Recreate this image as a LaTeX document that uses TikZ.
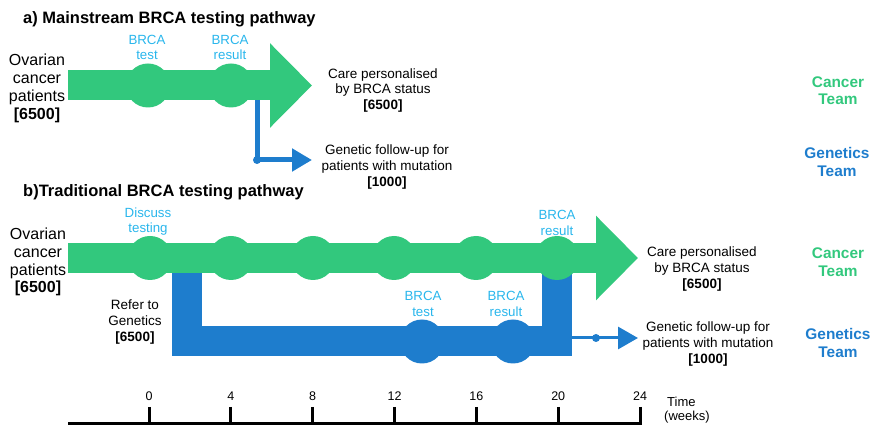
\documentclass[tikz,border=0pt]{standalone}
\usepackage{fontspec}
\setmainfont{Liberation Sans}
\usetikzlibrary{arrows.meta}
\definecolor{grn}{HTML}{32C87D}
\definecolor{blu}{HTML}{1E7DCD}
\definecolor{cyn}{HTML}{29B6EC}
\begin{document}
\begin{tikzpicture}[x=1pt,y=-1pt,
  lbl/.style={inner sep=0pt, align=center, font=\fontsize{13.3}{15.5}\selectfont, text=cyn},
  body/.style={inner sep=0pt, align=center, font=\fontsize{13.5}{15.8}\selectfont},
  big/.style={inner sep=0pt, align=center, font=\fontsize{16}{17.8}\selectfont},
  team/.style={inner sep=0pt, align=center, font=\fontsize{15.4}{17.5}\selectfont\bfseries},
  ttl/.style={inner sep=0pt, anchor=west, font=\fontsize{16.5}{18}\selectfont\bfseries},
  tick/.style={inner sep=0pt, font=\fontsize{12.5}{14}\selectfont},
  bump/.style={circle, minimum size=44pt, inner sep=0pt, fill=#1},
  bigarrow/.style={draw=grn, line width=30pt, -{Triangle[length=42pt,width=82pt]}},
  smallarrow/.style={draw=blu, line width=#1, -{Triangle[length=20pt,width=22pt]}},
]
\useasboundingbox (0,0) rectangle (873,427);

% ---------- titles ----------
\node[ttl] (titleA) at (23,19) {a) Mainstream BRCA testing pathway};
\node[ttl] (titleB) at (23,192) {b)Traditional BRCA testing pathway};

% ---------- part a ----------
\coordinate (aL) at (68,85.5);
\coordinate (aTip) at (312,85.5);
\draw[bigarrow] (aL) -- (aTip);
\node[bump=grn] (a1) at (148,85.5) {};
\node[bump=grn] (a2) at (231,85.5) {};
\node[lbl] (a1l) at (147,47.5) {BRCA\\test};
\node[lbl] (a2l) at (230,47.5) {BRCA\\result};

\coordinate (aS) at (257,100);
\coordinate (aC) at (257,160);
\coordinate (aE) at (312,160);
\draw[smallarrow=5pt] (aS) -- (aC) -- (aE);
\fill[blu] (aC) circle[radius=4pt];

\node[big] (aPat) at (37,88.5) {Ovarian\\cancer\\patients\\\textbf{[6500]}};
\node[body] (aCare) at (383,90.5) {Care personalised\\by BRCA status\\\textbf{[6500]}};
\node[body] (aGen) at (387,167) {Genetic follow-up for\\patients with mutation\\\textbf{[1000]}};
\node[team, text=grn] (aCT) at (838,90.5) {Cancer\\Team};
\node[team, text=blu] (aGT) at (837,162) {Genetics\\Team};

% ---------- part b ----------
\coordinate (bU1) at (187,258);
\coordinate (bU2) at (187,341.5);
\coordinate (bU3) at (557,341.5);
\coordinate (bU4) at (557,258);
\draw[blu, line width=30pt, line join=miter] (bU1) -- (bU2) -- (bU3) -- (bU4);
\node[bump=blu] (bb1) at (422,341.5) {};
\node[bump=blu] (bb2) at (513,341.5) {};

\coordinate (bL) at (68,258);
\coordinate (bTip) at (638,258);
\draw[bigarrow] (bL) -- (bTip);
\foreach \i/\x in {1/150,2/231,3/313,4/394,5/476,6/557}
  \node[bump=grn] (bg\i) at (\x,258) {};

\coordinate (bS) at (572,338);
\coordinate (bE) at (638,338);
\draw[smallarrow=3pt] (bS) -- (bE);
\fill[blu] (596,338) circle[radius=4pt];

\node[lbl] (bDisc) at (148,221.5) {Discuss\\testing};
\node[lbl] (bRes1) at (557,223) {BRCA\\result};
\node[lbl] (bTest) at (423,304) {BRCA\\test};
\node[lbl] (bRes2) at (506,304) {BRCA\\result};

\node[big] (bPat) at (38,262) {Ovarian\\cancer\\patients\\\textbf{[6500]}};
\node[body] (bRef) at (135,322) {Refer to\\Genetics\\\textbf{[6500]}};
\node[body] (bCare) at (702,269) {Care personalised\\by BRCA status\\\textbf{[6500]}};
\node[body] (bGen) at (708,344) {Genetic follow-up for\\patients with mutation\\\textbf{[1000]}};
\node[team, text=grn] (bCT) at (838,262) {Cancer\\Team};
\node[team, text=blu] (bGT) at (838,343) {Genetics\\Team};

% ---------- time axis ----------
\coordinate (axL) at (68,424);
\coordinate (axR) at (641.5,424);
\draw[line width=3pt] (axL) -- (axR);
\foreach \k in {0,4,...,24}{
  \pgfmathsetmacro{\xx}{149+\k*20.46}
  \draw[line width=3pt] (\xx,407) -- (\xx,425);
  \node[tick] (tk\k) at (\xx,396) {\k};
}
\node[inner sep=0pt, anchor=west, align=left, font=\fontsize{13}{14.5}\selectfont] (time) at (664,410) {\hspace*{3pt}Time\\(weeks)};
\end{tikzpicture}
\end{document}
